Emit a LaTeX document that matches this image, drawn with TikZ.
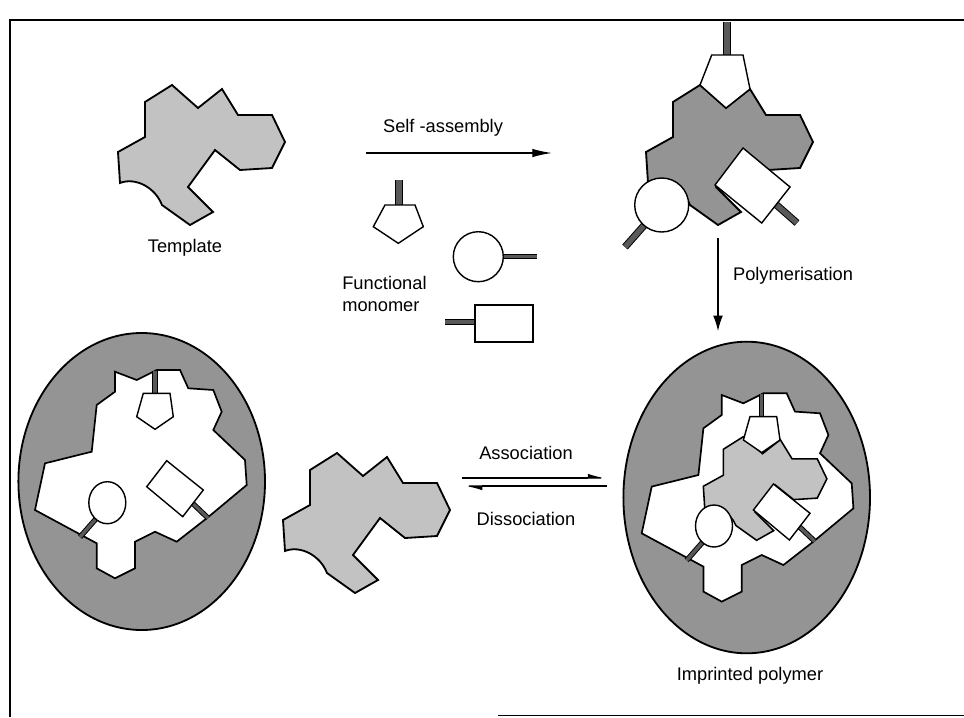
\documentclass[tikz,border=0pt]{standalone}
\usepackage{fontspec}
\setmainfont{Liberation Sans}
\usetikzlibrary{arrows.meta}

\tikzset{
  tmpl/.style={draw=black,line width=1.3pt,fill=black!24,line join=miter},
  boundtmpl/.style={tmpl,fill=black!42},
  monomer/.style={draw=black,line width=1pt,fill=white},
  stem/.style={draw=black,line width=0.7pt,double=black!65,double distance=3.8pt},
  thinstem/.style={stem,double distance=2.4pt},
  polymer/.style={draw=black,line width=1.3pt,fill=black!42},
  cavity/.style={draw=black,line width=1.2pt,fill=white,line join=miter},
  lbl/.style={font=\fontsize{13}{16}\selectfont,inner sep=0pt},
  reaction/.style={line width=0.9pt,-{Latex[length=14pt,width=6pt]}},
  harp/.style={line width=0.8pt,-{Latex[harpoon,length=12pt,width=6pt]}},
  frame/.style={line width=1pt}
}

% template outline, centred on its middle
\newcommand{\templatepath}{(-28,-70) -- (-2,-47) -- (22,-66) -- (38,-40) -- (72,-40) -- (85,-13) -- (72,13) -- (40,15) -- (15,-5) -- (-12,32) -- (13,57) -- (-10,70) -- (-38,50) .. controls (-45,32) and (-65,22) .. (-80,28) -- (-82,-3) -- (-55,-18) -- (-55,-53) -- cycle}

% imprinted cavity (left polymer coordinates)
\newcommand{\cavityhole}{\draw[cavity] (115,371.7) -- (136.7,380) -- (156.7,370) -- (180,370) -- (188.3,388.3) -- (213.3,390) -- (221.7,411.7) -- (213.3,430) -- (245,460) -- (246.7,485) -- (206.7,518.3) -- (176.7,541.7) -- (155,531.7) -- (135,541.7) -- (135,568.3) -- (115,578.3) -- (96.7,568.3) -- (96.7,543.3) -- (35,510) -- (45,463.3) -- (91.7,451.7) -- (96.7,405) -- (115,391.7) -- cycle;}

\newcommand{\cavitysites}{%
  \draw[thinstem] (155,371) -- (155,400);
  \draw[thinstem] (80,537) -- (102,512);
  \draw[thinstem] (188,499) -- (208,518);
  \draw[monomer] (143.3,393.3) -- (170,393.3) -- (173.3,416.7) -- (155,429.3) -- (136.7,416.7) -- cycle;
  \draw[monomer] (107.3,502.7) ellipse [x radius=18.5, y radius=21];
  \draw[monomer] (146.7,486.7) -- (166.7,460.7) -- (203.3,490) -- (182.7,516.7) -- cycle;
}

\begin{document}
\begin{tikzpicture}[x=0.025cm,y=-0.025cm]
  \useasboundingbox (0,0) rectangle (964,717);
  \draw[frame] (10,717) -- (10,20) -- (964,20);
  \draw[frame] (498,715.5) -- (964,715.5);

  % template
  \begin{scope}[shift={(200,155)}]
    \draw[tmpl] \templatepath;
  \end{scope}
  \node[lbl] (template) at (185,248) {Template};

  % free monomers
  \draw[stem] (399,180) -- (399,210);
  \draw[monomer] (385,205) -- (415,205) -- (423.3,226.7) -- (398.3,243.3) -- (373.3,226.7) -- cycle;
  \draw[thinstem] (495,256.7) -- (537,256.7);
  \draw[monomer] (478.3,256.7) circle [radius=25];
  \draw[thinstem] (445,322) -- (480,322);
  \draw[monomer] (475,305) rectangle (533,342);
  \node[lbl,anchor=west,align=left] (monomers) at (342,294) {Functional\\monomer};

  % self-assembly
  \coordinate (sa-tail) at (366,153);
  \coordinate (sa-head) at (552,153);
  \draw[reaction] (sa-tail) -- (sa-head);
  \node[lbl] (selfasm) at (443,128) {Self -assembly};

  % pre-polymerisation complex
  \begin{scope}[shift={(728,155)}]
    \draw[boundtmpl] \templatepath;
  \end{scope}
  \draw[stem] (727,22) -- (727,60);
  \draw[monomer] (711.7,55) -- (743,55) -- (750,89) -- (726,108) -- (700,85) -- cycle;
  \draw[stem] (625,247) -- (648,221);
  \draw[monomer] (661.7,205) circle [radius=27];
  \draw[stem] (772,201) -- (797,223);
  \draw[monomer] (715,185) -- (743,148) -- (790,187) -- (761.7,223) -- cycle;

  % polymerisation
  \coordinate (pol-tail) at (718,238);
  \coordinate (pol-head) at (718,331);
  \draw[reaction,-{Latex[length=11pt,width=7pt]}] (pol-tail) -- (pol-head);
  \node[lbl] (polym) at (793,276) {Polymerisation};

  % imprinted polymer, template inside
  \draw[polymer] (746.7,497.5) ellipse [x radius=123.3, y radius=155.8];
  \begin{scope}[shift={(606.7,23.3)}]
    \cavityhole
  \end{scope}
  \begin{scope}[shift={(764,488.5)},scale=0.74]
    \draw[tmpl,line width=1.1pt] \templatepath;
  \end{scope}
  \begin{scope}[shift={(606.7,23.3)}]
    \cavitysites
  \end{scope}
  \node[lbl] (mip) at (750,676) {Imprinted polymer};

  % empty polymer
  \draw[polymer] (141.7,481.5) ellipse [x radius=123.3, y radius=148.5];
  \cavityhole
  \cavitysites

  % released template
  \begin{scope}[shift={(365,523)}]
    \draw[tmpl] \templatepath;
  \end{scope}

  % association / dissociation
  \coordinate (as-tail) at (462,478);
  \coordinate (as-head) at (608,478);
  \coordinate (ds-tail) at (607,486);
  \coordinate (ds-head) at (462,486);
  \draw[harp] (as-tail) -- (as-head);
  \draw[harp] (ds-tail) -- (ds-head);
  \node[lbl] (assoc) at (526,453) {Association};
  \node[lbl] (dissoc) at (526,519) {Dissociation};
\end{tikzpicture}
\end{document}
